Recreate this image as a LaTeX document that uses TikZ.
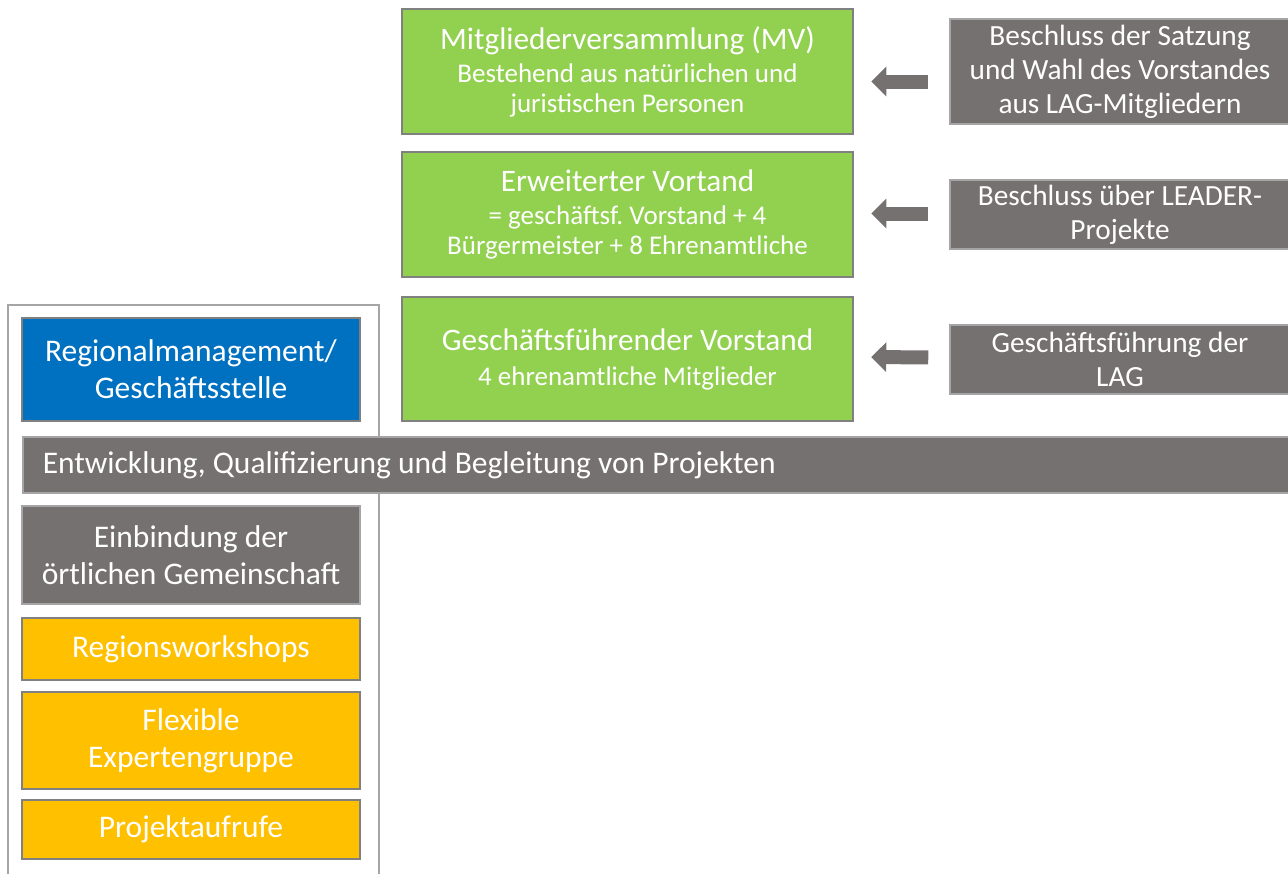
\documentclass[tikz,border=0pt]{standalone}
\usepackage{fontspec}
\setmainfont{Carlito}
\frenchspacing
\usetikzlibrary{calc,positioning,arrows.meta}
\definecolor{lggreen}{HTML}{92D050}
\definecolor{lgblue}{HTML}{0070C0}
\definecolor{lgyellow}{HTML}{FFC000}
\definecolor{lggray}{HTML}{767171}
\definecolor{boxline}{HTML}{808080}
\definecolor{frameline}{HTML}{A5A5A5}

\begin{document}
\begin{tikzpicture}[x=1pt,y=-1pt]

\tikzset{
organ/.style={fill=lggreen,draw=boxline,line width=2.5pt,minimum width=451pt,text=white,align=flush center,inner sep=0pt,font=\fontsize{27}{30}\selectfont},
task/.style={fill=lggray,draw=frameline,line width=1.5pt,minimum width=340pt,text=white,align=flush center,inner sep=0pt,font=\fontsize{29.3}{34}\selectfont},
regio/.style={draw=boxline,line width=2.5pt,minimum width=338pt,text=white,align=flush center,inner sep=0pt,font=\fontsize{31.5}{37}\selectfont},
feed/.style={draw=lggray,line width=14pt,-{Triangle[length=15pt,width=29pt]},shorten >=17pt,shorten <=21pt},
frame/.style={draw=frameline,line width=2pt}
}

\useasboundingbox (0,0) rectangle (1288,873);
\clip (0,0) rectangle (1288,873);

% Outer frame
\draw[frame] (8,305) rectangle (379,895);

% Nodes
\node[organ,minimum height=125pt] (mv) at (627.5,71.5) {{\fontsize{31.3}{30}\selectfont Mitgliederversammlung (MV)}\\[3pt]Bestehend aus natürlichen und\\juristischen Personen};
\node[organ,minimum height=125pt] (ev) at (627.5,214.5) {{\fontsize{31.3}{30}\selectfont Erweiterter Vortand}\\[3pt]= geschäftsf. Vorstand + 4\\Bürgermeister + 8 Ehrenamtliche};
\node[organ,minimum height=124pt] (gv) at (627.5,359) {{\fontsize{31.3}{30}\selectfont Geschäftsführender Vorstand}\\[5pt]4 ehrenamtliche Mitglieder};

\node[task,minimum height=105pt] (sat) at (1120,71.5) {Beschluss der Satzung\\und Wahl des Vorstandes\\aus LAG-Mitgliedern};
\node[task,minimum height=69pt] (leader) at (1120,214.5) {Beschluss über LEADER-\\Projekte};
\node[task,minimum height=69pt] (lag) at (1120,359.5) {Geschäftsführung der\\LAG};

\node[regio,fill=lgblue,minimum height=103pt] (rm) at (191,369.5) {Regionalmanagement/\\Geschäftsstelle};
\node[task,anchor=west,minimum height=56pt,text width=1240pt,inner xsep=20pt,align=flush left,font=\fontsize{31.5}{37}\selectfont] (proj) at (22,465) {Entwicklung, Qualifizierung und Begleitung von Projekten};
\node[regio,fill=lggray,draw=frameline,line width=1.5pt,minimum height=98pt] (ein) at (191,555) {Einbindung der\\örtlichen Gemeinschaft};
\node[regio,fill=lgyellow,minimum height=62pt] (rw) at (191,649) {Regionsworkshops};
\node[regio,fill=lgyellow,minimum height=97pt] (fe) at (191,740.5) {Flexible\\Expertengruppe};
\node[regio,fill=lgyellow,minimum height=59pt] (pa) at (191,829.5) {Projektaufrufe};

% Arrows
\draw[feed] ([yshift=-10pt]sat.west) -- ([yshift=-10pt]mv.east);
\draw[feed] ([yshift=1pt]leader.west) -- ([yshift=1pt]ev.east);
\draw[feed] ([yshift=2pt]lag.west) -- ([yshift=2pt]gv.east);

\end{tikzpicture}
\end{document}
